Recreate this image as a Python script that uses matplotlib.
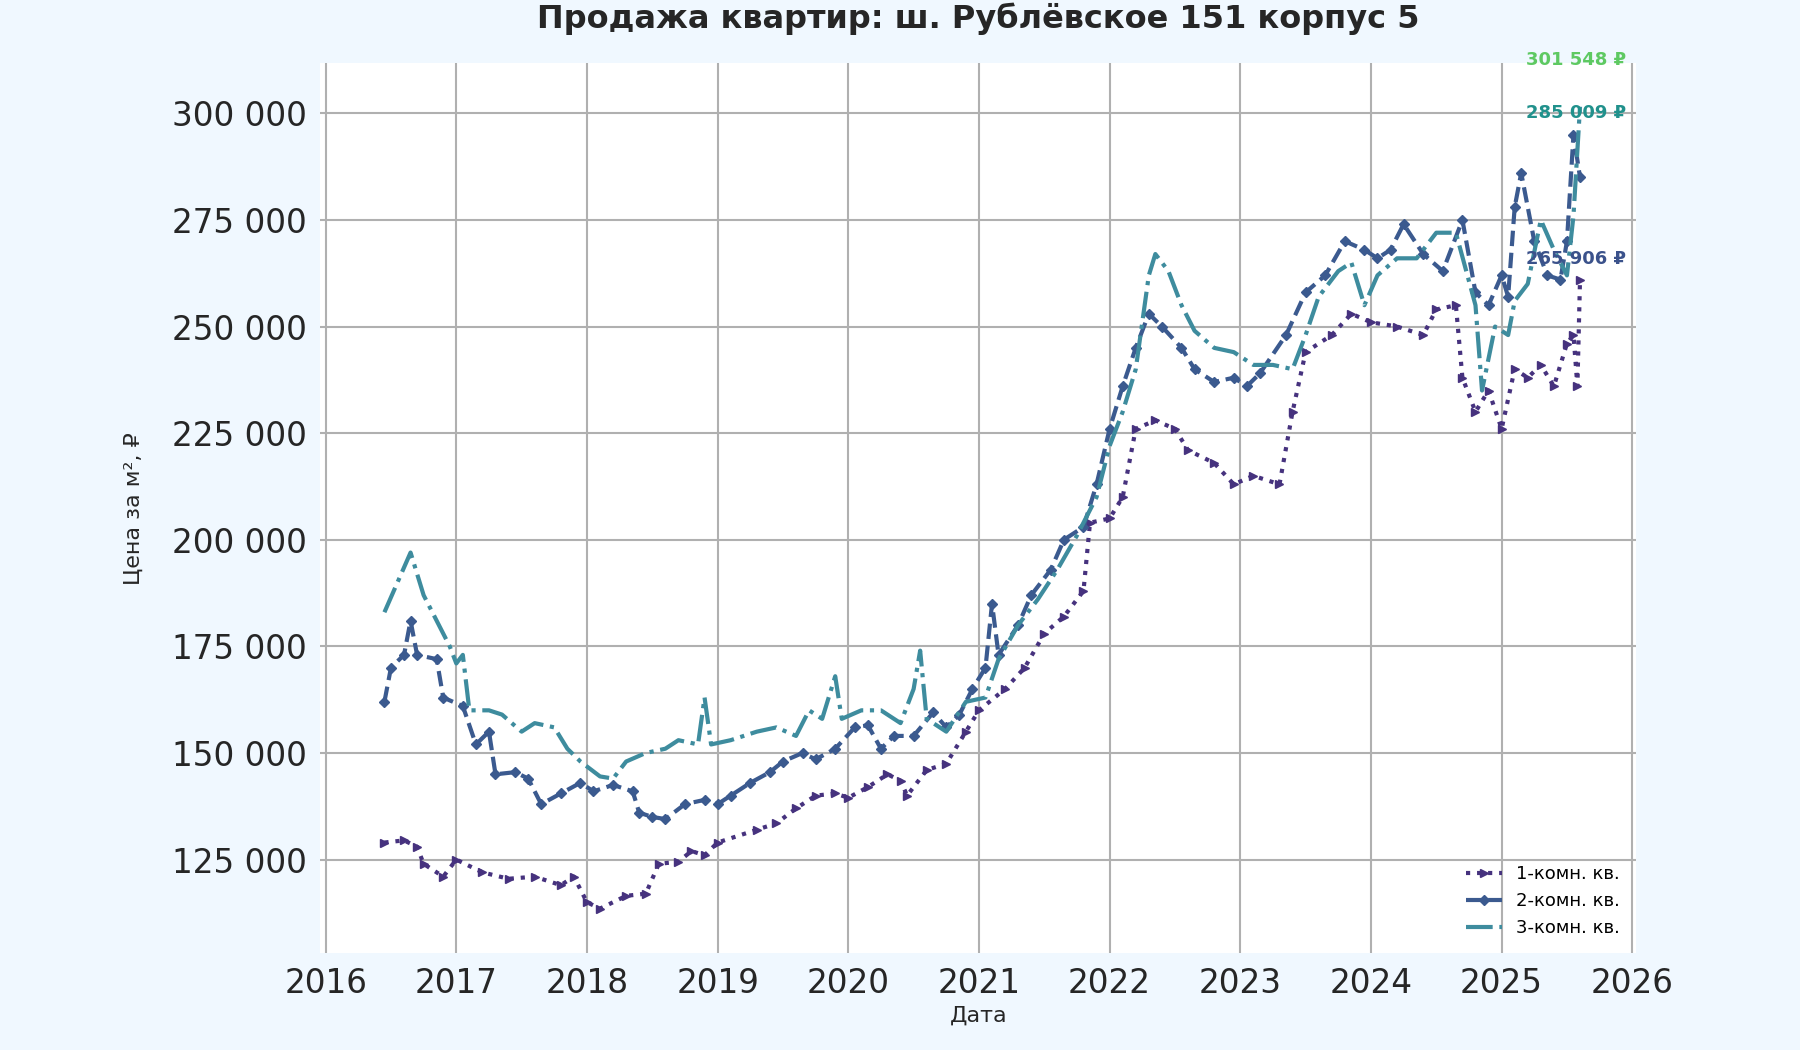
import matplotlib
matplotlib.use("Agg")
import matplotlib.pyplot as plt
from matplotlib.ticker import FuncFormatter

x1 = [2016.45,2016.6,2016.7,2016.75,2016.9,2017.0,2017.2,2017.4,2017.6,2017.8,2017.9,2018.0,2018.1,2018.3,2018.45,2018.55,2018.7,2018.8,2018.9,2019.0,2019.3,2019.45,2019.6,2019.75,2019.9,2020.0,2020.15,2020.3,2020.4,2020.45,2020.6,2020.75,2020.9,2021.0,2021.2,2021.35,2021.5,2021.65,2021.8,2021.85,2022.0,2022.1,2022.2,2022.35,2022.5,2022.6,2022.8,2022.95,2023.1,2023.3,2023.4,2023.5,2023.7,2023.85,2024.0,2024.2,2024.4,2024.5,2024.65,2024.7,2024.8,2024.9,2025.0,2025.1,2025.2,2025.3,2025.4,2025.5,2025.55,2025.58,2025.6]
y1 = [129000,129500,128000,124000,121000,125000,122000,120500,121000,119000,121000,115000,113500,116500,117000,124000,124500,127000,126000,129000,132000,133500,137000,140000,140500,139500,142000,145000,143500,140000,146000,147500,155000,160000,165000,170000,178000,182000,188000,204000,205000,210000,226000,228000,226000,221000,218000,213000,215000,213000,230000,244000,248000,253000,251000,250000,248000,254000,255000,238000,230000,235000,226000,240000,238000,241000,236000,246000,248000,236000,261000]

x2 = [2016.45,2016.5,2016.6,2016.65,2016.7,2016.85,2016.9,2017.05,2017.15,2017.25,2017.3,2017.45,2017.55,2017.65,2017.8,2017.95,2018.05,2018.2,2018.35,2018.4,2018.5,2018.6,2018.75,2018.9,2019.0,2019.1,2019.25,2019.4,2019.5,2019.65,2019.75,2019.9,2020.05,2020.15,2020.25,2020.35,2020.5,2020.65,2020.75,2020.85,2020.95,2021.05,2021.1,2021.15,2021.3,2021.4,2021.55,2021.65,2021.8,2021.9,2022.0,2022.1,2022.2,2022.3,2022.4,2022.55,2022.65,2022.8,2022.95,2023.05,2023.15,2023.35,2023.5,2023.65,2023.8,2023.95,2024.05,2024.15,2024.25,2024.4,2024.55,2024.7,2024.8,2024.9,2025.0,2025.05,2025.1,2025.15,2025.25,2025.35,2025.45,2025.5,2025.55,2025.6]
y2 = [162000,170000,173000,181000,173000,172000,163000,161000,152000,155000,145000,145500,144000,138000,140500,143000,141000,142500,141000,136000,135000,134500,138000,139000,138000,140000,143000,145500,148000,150000,148500,151000,156000,156500,151000,154000,154000,159500,156000,159000,165000,170000,185000,173000,180000,187000,193000,200000,203000,213000,226000,236000,245000,253000,250000,245000,240000,237000,238000,236000,239000,248000,258000,262000,270000,268000,266000,268000,274000,267000,263000,275000,258000,255000,262000,257000,278000,286000,270000,262000,261000,270000,295000,285009]

x3 = [2016.45,2016.55,2016.65,2016.75,2016.85,2016.95,2017.0,2017.05,2017.1,2017.25,2017.35,2017.5,2017.6,2017.75,2017.85,2017.95,2018.1,2018.2,2018.3,2018.45,2018.6,2018.7,2018.85,2018.9,2018.95,2019.1,2019.3,2019.45,2019.6,2019.7,2019.8,2019.9,2019.95,2020.1,2020.25,2020.4,2020.5,2020.55,2020.6,2020.75,2020.9,2021.05,2021.15,2021.3,2021.45,2021.6,2021.75,2021.9,2022.0,2022.1,2022.2,2022.3,2022.35,2022.45,2022.55,2022.65,2022.8,2022.95,2023.1,2023.25,2023.4,2023.5,2023.6,2023.75,2023.85,2023.95,2024.05,2024.2,2024.35,2024.5,2024.65,2024.8,2024.85,2024.95,2025.05,2025.1,2025.2,2025.3,2025.4,2025.5,2025.55,2025.6]
y3 = [183000,190000,197000,187000,181000,175000,171000,173000,160000,160000,159000,155000,157000,156000,151000,148000,144500,144000,148000,150000,151000,153000,152000,163000,152000,153000,155000,156000,154000,160000,158000,168000,158000,160000,160000,157000,165000,174000,158000,155000,162000,163000,172000,180000,186000,193000,201000,210000,222000,230000,240000,262000,267000,263000,255000,249000,245000,244000,241000,241000,240000,248000,257000,263000,265000,255000,262000,266000,266000,272000,272000,255000,235000,250000,248000,256000,260000,275000,268000,262000,276000,301548]

labels = ["1-комн. кв.", "2-комн. кв.", "3-комн. кв."]
end_labels = ["265 906 ₽", "285 009 ₽", "301 548 ₽"]

c1, c2, c3 = "#46327e", "#3b5a8f", "#3e8c9e"
lab_cols = ["#3b528b", "#21918c", "#5ec962"]

fig = plt.figure(figsize=(18, 10.5), dpi=100, facecolor="#f0f8ff")
ax = fig.add_axes([0.178, 0.092, 0.731, 0.848])
ax.set_facecolor("white")
ax.plot(x1, y1, ls=":", lw=3, marker=">", ms=6, color=c1, label=labels[0])
ax.plot(x2, y2, ls="--", lw=3, marker="D", ms=5, color=c2, label=labels[1])
ax.plot(x3, y3, ls="-.", lw=3, color=c3, label=labels[2])
for v, t, c in zip([265906, 300000, 312500], end_labels, lab_cols):
    ax.text(2025.95, v, t, color=c, fontsize=13, fontweight="bold", ha="right", va="center")
ax.set_xlim(2015.96, 2026.03)
ax.set_ylim(103000, 311800)
ax.set_xticks(range(2016, 2027))
ax.yaxis.set_major_formatter(FuncFormatter(lambda v, p: f"{int(v):,}".replace(",", " ")))
ax.grid(True, color="#b0b0b0", lw=1.5)
for s in ax.spines.values():
    s.set_visible(False)
ax.tick_params(labelsize=23.5, length=0, colors="#262626", pad=10)
ax.set_xlabel("Дата", fontsize=16, color="#262626")
ax.set_ylabel("Цена за м², ₽", fontsize=16, color="#262626", labelpad=20)
ax.set_title("Продажа квартир: ш. Рублёвское 151 корпус 5", fontsize=23, fontweight="bold", color="#262626", pad=25)
ax.legend(loc="lower right", fontsize=13, frameon=False)
fig.savefig("out.png", facecolor=fig.get_facecolor())
